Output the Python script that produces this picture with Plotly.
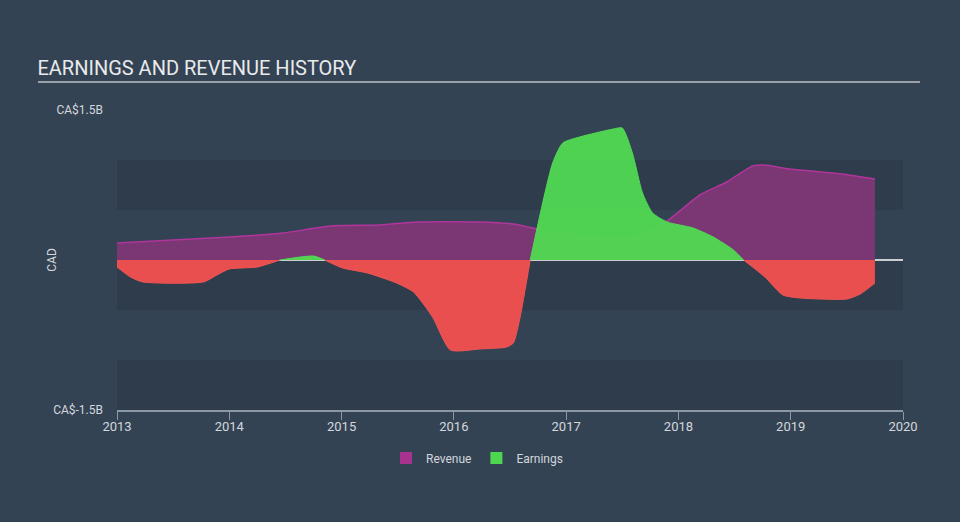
import plotly.graph_objects as go

# values, in billions of CAD
rev_x = [2013.0, 2014.0, 2014.48, 2014.9, 2015.34, 2015.67, 2016.23, 2016.53, 2016.7,
         2016.95, 2017.2, 2017.48, 2017.66, 2017.9, 2018.19, 2018.43, 2018.66, 2018.77,
         2018.99, 2019.46, 2019.75]
rev_y = [0.17, 0.23, 0.27, 0.34, 0.35, 0.38, 0.38, 0.36, 0.32,
         0.27, 0.24, 0.22, 0.25, 0.39, 0.65, 0.78, 0.94, 0.95,
         0.91, 0.86, 0.81]

earn_x = [2013.0, 2013.12, 2013.23, 2013.77, 2013.89, 2014.0, 2014.25, 2014.45, 2014.75,
          2014.85, 2015.01, 2015.23, 2015.49, 2015.64, 2015.81, 2015.97, 2016.23, 2016.47,
          2016.53, 2016.59, 2016.68, 2016.88, 2016.97, 2017.12, 2017.42, 2017.5, 2017.59,
          2017.68, 2017.77, 2017.9, 2018.13, 2018.31, 2018.49, 2018.58, 2018.77, 2018.93,
          2019.08, 2019.5, 2019.62, 2019.75]
earn_y = [-0.07, -0.17, -0.22, -0.22, -0.15, -0.09, -0.07, 0.0, 0.04,
          0.0, -0.08, -0.13, -0.23, -0.32, -0.57, -0.90, -0.89, -0.87,
          -0.83, -0.57, 0.0, 0.97, 1.17, 1.23, 1.31, 1.32, 1.07,
          0.67, 0.47, 0.38, 0.32, 0.23, 0.10, 0.0, -0.17, -0.35,
          -0.38, -0.39, -0.34, -0.23]

years = [2013, 2014, 2015, 2016, 2017, 2018, 2019, 2020]
y_ticks = [-1.5, 1.5]
y_labels = ["CA$-1.5B", "CA$1.5B"]

BG = "#344353"
BAND = "#2e3c4b"
TXT = "#d3d7dc"

earn_pos = [v if v >= 0 else None for v in earn_y]
earn_neg = [v if v <= 0 else None for v in earn_y]

fig = go.Figure()

fig.add_trace(go.Scatter(
    x=rev_x, y=rev_y, mode="lines", fill="tozeroy",
    line=dict(color="#b0359c", width=1.5, shape="spline", smoothing=0.6),
    fillcolor="#7a3773", showlegend=False, hoverinfo="skip"))

fig.add_trace(go.Scatter(
    x=earn_x, y=earn_neg, mode="lines", fill="tozeroy",
    line=dict(color="#f05555", width=1, shape="spline", smoothing=0.6),
    fillcolor="#e94f4f", showlegend=False, hoverinfo="skip"))

fig.add_trace(go.Scatter(
    x=earn_x, y=earn_pos, mode="lines", fill="tozeroy",
    line=dict(color="#52d855", width=1, shape="spline", smoothing=0.6),
    fillcolor="rgba(80,215,82,0.96)", showlegend=False, hoverinfo="skip"))

# legend swatches
fig.add_trace(go.Scatter(x=[None], y=[None], mode="markers", name="Revenue",
                         marker=dict(symbol="square", size=14, color="#a8338f")))
fig.add_trace(go.Scatter(x=[None], y=[None], mode="markers", name="Earnings",
                         marker=dict(symbol="square", size=14, color="#4fd651")))

# alternating background bands
for y0, y1 in [(0.5, 1.0), (-0.5, 0.0), (-1.5, -1.0)]:
    fig.add_shape(type="rect", xref="x", yref="y", x0=2013, x1=2020, y0=y0, y1=y1,
                  fillcolor=BAND, line_width=0, layer="below")

# zero line
fig.add_shape(type="line", xref="x", yref="y", x0=2013, x1=2020, y0=0, y1=0,
              line=dict(color="white", width=1.5), layer="below")

# title underline
fig.add_shape(type="line", xref="paper", yref="paper", x0=-0.1005, x1=1.0216,
              y0=1.0933, y1=1.0933, line=dict(color="#9aa1a9", width=2))

fig.add_annotation(text="CAD", xref="paper", yref="paper", x=-0.083, y=0.5,
                   xanchor="center", yanchor="middle",
                   textangle=-90, showarrow=False, font=dict(size=12, color=TXT))

fig.update_layout(
    width=960, height=522,
    margin=dict(l=117, r=57, t=110, b=112),
    paper_bgcolor=BG, plot_bgcolor=BG,
    font=dict(family="Roboto", color=TXT, size=12),
    title=dict(text="EARNINGS AND REVENUE HISTORY", x=0.039, xanchor="left",
               y=1 - 68 / 522, yanchor="middle",
               font=dict(size=20, color="#e8eaec")),
    legend=dict(orientation="h", x=0.458, xanchor="center", y=-0.16, yanchor="middle",
                font=dict(size=12, color=TXT), itemsizing="constant"),
)

fig.update_xaxes(range=[2013, 2020], tickvals=years, ticktext=[str(y) for y in years],
                 showgrid=False, zeroline=False, showline=True, linecolor="#8d98a5",
                 linewidth=1.5, ticks="outside", ticklen=8, tickcolor="#8d98a5",
                 ticklabelstandoff=-4, tickfont=dict(size=13, color=TXT))
fig.update_yaxes(range=[-1.5, 1.5], tickvals=y_ticks, ticktext=y_labels,
                 showgrid=False, zeroline=False, ticks="", ticklabelstandoff=13,
                 tickfont=dict(size=12, color=TXT))

fig.write_html("out.html", config={"displayModeBar": False},
               post_script="document.body.style.margin='0';")
